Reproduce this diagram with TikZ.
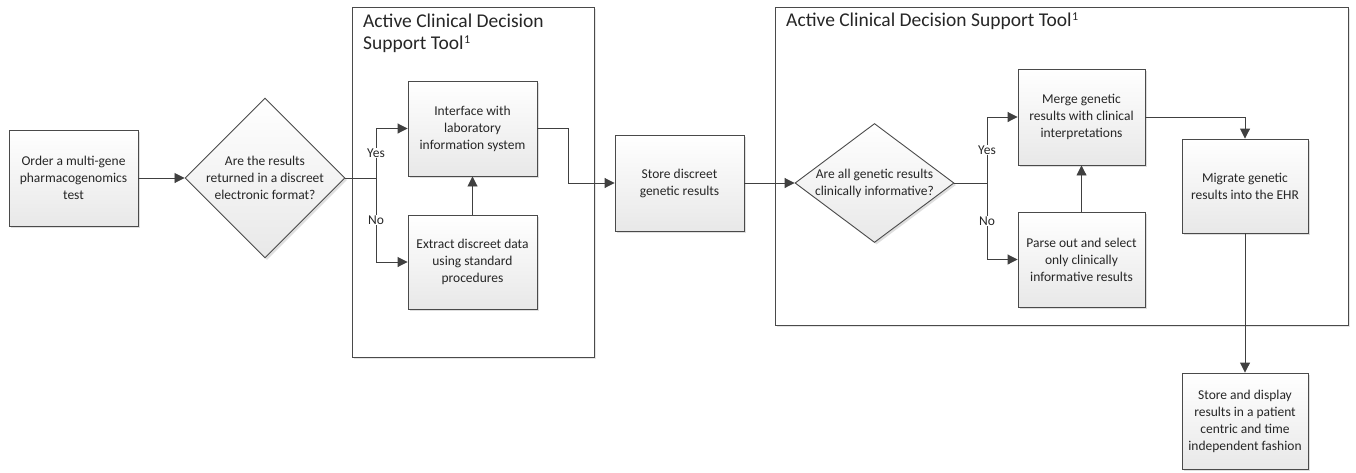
\documentclass[tikz,border=0pt]{standalone}
\usepackage{fontspec}
\setmainfont{Carlito}
\usetikzlibrary{shapes.geometric,arrows.meta,shadows}
\definecolor{ln}{HTML}{404040}
\definecolor{bd}{HTML}{4A4A4A}
\definecolor{tx}{HTML}{262626}
\newcommand{\supone}{\kern0.5pt\raisebox{0.3em}{\fontsize{12}{12}\selectfont 1}}
\begin{document}
\begin{tikzpicture}[x=1pt,y=-1pt,
  boxtxt/.style={font=\fontsize{13.5}{17}\selectfont, text=tx, align=center},
  box/.style={boxtxt, rectangle, draw=bd, line width=0.9pt, top color=white, bottom color=black!9,
    drop shadow={shadow xshift=2pt, shadow yshift=-2pt, fill=black!25, opacity=0.5}, inner sep=0pt},
  dia/.style={diamond, draw=bd, line width=0.9pt, top color=white, bottom color=black!9,
    drop shadow={shadow xshift=2pt, shadow yshift=-2pt, fill=black!25, opacity=0.5}, inner sep=0pt},
  cont/.style={rectangle, draw=bd, line width=0.9pt, fill=white,
    drop shadow={shadow xshift=2pt, shadow yshift=-2pt, fill=black!20, opacity=0.5}, inner sep=0pt},
  ttl/.style={font=\fontsize{19.5}{22}\selectfont, text=tx, align=left, anchor=north west, inner sep=0pt},
  arr/.style={draw=ln, line width=0.9pt, -{Triangle[length=10pt,width=10pt]}},
  lin/.style={draw=ln, line width=0.9pt},
  yn/.style={boxtxt, fill=white, inner sep=1pt}
]
\useasboundingbox (0,0) rectangle (1356,472);
% containers
\node[cont, minimum width=242pt, minimum height=350pt] (c1) at (473,182) {};
\node[cont, minimum width=573pt, minimum height=318pt] (c2) at (1061.5,166) {};
\node[ttl] (t1) at (363,14) {Active Clinical Decision\\Support Tool\supone};
\node[ttl] (t2) at (786,13) {Active Clinical Decision Support Tool\supone};
% nodes
\node[box, minimum width=129pt, minimum height=96pt] (order) at (73.5,178) {Order a multi-gene\\pharmacogenomics\\test};
\node[dia, minimum width=160pt, minimum height=160pt] (d1) at (265,178) {};
\node[boxtxt] (d1t) at (265,178) {Are the results\\returned in a discreet\\electronic format?};
\node[box, minimum width=129pt, minimum height=95pt] (iface) at (472.5,128.5) {Interface with\\laboratory\\information system};
\node[box, minimum width=129pt, minimum height=94pt] (extract) at (472.5,262) {Extract discreet data\\using standard\\procedures};
\node[box, minimum width=129pt, minimum height=96pt] (store) at (679.5,183) {Store discreet\\genetic results};
\node[dia, minimum width=159pt, minimum height=119pt] (d2) at (874.5,183) {};
\node[boxtxt] (d2t) at (874.5,183) {Are all genetic results\\clinically informative?};
\node[box, minimum width=127pt, minimum height=96pt] (merge) at (1081.5,117) {Merge genetic\\results with clinical\\interpretations};
\node[box, minimum width=127pt, minimum height=95pt] (parse) at (1081.5,259.5) {Parse out and select\\only clinically\\informative results};
\node[box, minimum width=126pt, minimum height=94pt] (migr) at (1245,186) {Migrate genetic\\results into the EHR};
\node[box, minimum width=126pt, minimum height=96pt] (sd) at (1245,421) {Store and display\\results in a patient\\centric and time\\independent fashion};
% connectors
\coordinate (b1) at (376,178);
\coordinate (b2) at (987,183);
\coordinate (k1) at (568,128.5);
\draw[arr] (order) -- (d1);
\draw[lin] (d1.east) -- (b1);
\draw[arr] (b1) |- (iface.west);
\draw[arr] (b1) |- (extract.west);
\node[yn] (yes1) at (376,153) {Yes};
\node[yn] (no1) at (376,220) {No};
\draw[arr] (extract) -- (iface);
\draw[arr] (iface.east) -- (k1) |- (store.west);
\draw[arr] (store) -- (d2);
\draw[lin] (d2.east) -- (b2);
\draw[arr] (b2) |- (merge.west);
\draw[arr] (b2) |- (parse.west);
\node[yn] (yes2) at (987,150) {Yes};
\node[yn] (no2) at (987,221) {No};
\draw[arr] (parse) -- (merge);
\draw[arr] (merge.east) -| (migr.north);
\draw[arr] (migr) -- (sd);
\end{tikzpicture}
\end{document}
